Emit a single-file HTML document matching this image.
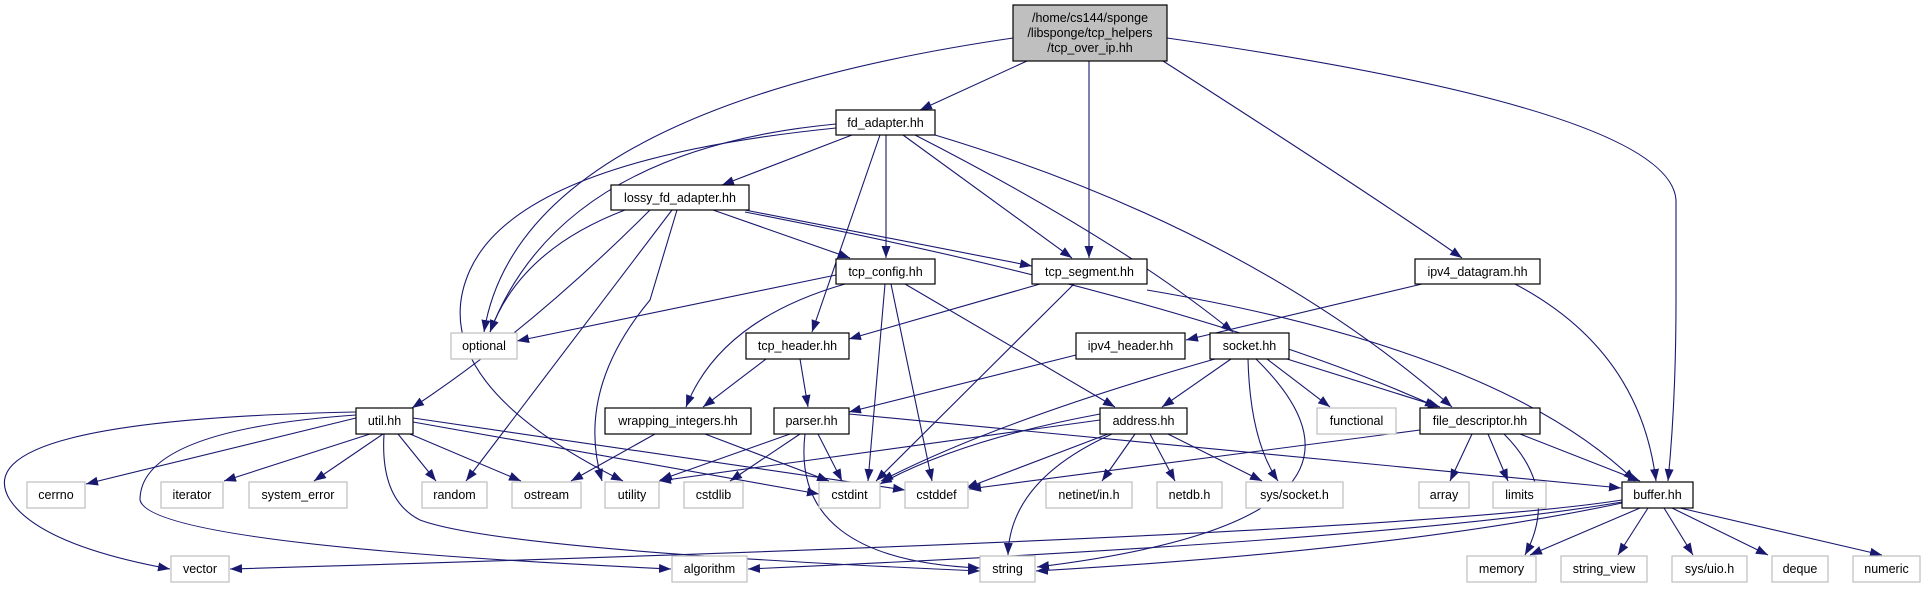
<!DOCTYPE html>
<html><head><meta charset="utf-8"><style>
html,body{margin:0;padding:0;background:#fff;}
svg{display:block;}
text{font-family:"Liberation Sans",Arial,sans-serif;font-size:12.5px;fill:#000;}
</style></head><body>
<svg width="1926" height="589" viewBox="0 0 1926 589" xmlns="http://www.w3.org/2000/svg">
<defs>
<marker id="a" markerWidth="13" markerHeight="10" refX="12" refY="4.5" orient="auto" markerUnits="userSpaceOnUse">
<path d="M0,0 L12,4.5 L0,9 z" fill="#191970"/>
</marker>
</defs>
<g fill="none" stroke="#191970" stroke-width="1.1" marker-end="url(#a)">
<path d="M1027,61 L920,110"/>
<path d="M1089,61 L1089,258"/>
<path d="M1163,61 Q1380,200 1462,258"/>
<path d="M1167,38 Q1670,110 1676,200 L1676,300 Q1676,400 1668,481"/>
<path d="M1013,38 Q520,110 484,332"/>
<path d="M852,135 L722,185"/>
<path d="M886,135 L886,258"/>
<path d="M880,135 L812,332"/>
<path d="M903,135 L1072,258"/>
<path d="M915,135 Q1120,240 1233,332"/>
<path d="M935,135 Q1250,230 1452,407"/>
<path d="M836,124 Q560,150 490,332"/>
<path d="M836,128 Q520,160 470,270 Q420,380 623,481"/>
<path d="M625,210 Q520,250 490,332"/>
<path d="M650,210 Q530,330 412,408"/>
<path d="M672,210 L466,481"/>
<path d="M677,210 L650,300 Q575,390 602,481"/>
<path d="M713,210 L850,258"/>
<path d="M745,210 L1032,266"/>
<path d="M745,212 Q1200,300 1437,407"/>
<path d="M836,275 L517,341"/>
<path d="M845,284 Q720,320 686,407"/>
<path d="M885,284 L868,481"/>
<path d="M891,284 L932,481"/>
<path d="M905,284 L1115,407"/>
<path d="M1040,284 L849,339"/>
<path d="M1074,284 L876,481"/>
<path d="M1147,290 Q1500,350 1635,481"/>
<path d="M1422,284 L1186,340"/>
<path d="M1515,284 Q1640,350 1656,481"/>
<path d="M766,359 L703,407"/>
<path d="M800,359 L808,407"/>
<path d="M1076,355 L849,412"/>
<path d="M1231,359 L1162,407"/>
<path d="M1267,359 L1330,407"/>
<path d="M1287,359 L1440,407"/>
<path d="M1248,359 Q1250,440 1278,481"/>
<path d="M1256,359 Q1420,520 1037,567"/>
<path d="M1215,359 Q1000,420 881,481"/>
<path d="M1100,414 Q960,440 880,484"/>
<path d="M1108,434 L966,488"/>
<path d="M1100,420 L659,481"/>
<path d="M1135,434 L1102,481"/>
<path d="M1150,434 L1175,481"/>
<path d="M1168,434 L1262,481"/>
<path d="M1112,434 Q1010,480 1008,555"/>
<path d="M655,434 L571,481"/>
<path d="M705,434 L829,481"/>
<path d="M790,434 L660,480"/>
<path d="M800,434 L730,481"/>
<path d="M818,434 L842,481"/>
<path d="M805,434 Q790,560 980,568"/>
<path d="M849,414 L1621,488"/>
<path d="M356,418 L86,484"/>
<path d="M370,434 L224,481"/>
<path d="M383,434 L314,481"/>
<path d="M398,434 L436,481"/>
<path d="M410,434 L521,481"/>
<path d="M413,422 L819,494"/>
<path d="M413,418 L905,490"/>
<path d="M356,412 Q-40,420 10,500 Q40,545 170,569"/>
<path d="M356,415 Q140,430 140,500 Q150,545 671,569"/>
<path d="M384,434 Q380,500 420,520 Q500,550 980,571"/>
<path d="M1420,430 L969,489"/>
<path d="M1472,434 L1450,481"/>
<path d="M1488,434 L1508,481"/>
<path d="M1504,434 Q1560,490 1525,555"/>
<path d="M1520,434 L1640,481"/>
<path d="M1622,500 Q1400,535 230,569"/>
<path d="M1622,502 Q1400,540 748,569"/>
<path d="M1622,503 Q1400,550 1036,571"/>
<path d="M1640,508 L1530,555"/>
<path d="M1648,508 L1618,555"/>
<path d="M1664,508 L1693,555"/>
<path d="M1672,508 L1768,555"/>
<path d="M1680,508 L1882,555"/>
</g>
<g stroke-width="1.2">
<rect x="1013" y="5" width="154" height="56" fill="#bfbfbf" stroke="#000"/>
<rect x="836" y="110" width="99" height="25" fill="#fff" stroke="#000"/>
<rect x="611" y="185" width="138" height="25" fill="#fff" stroke="#000"/>
<rect x="836" y="259" width="99" height="25" fill="#fff" stroke="#000"/>
<rect x="1032" y="259" width="115" height="25" fill="#fff" stroke="#000"/>
<rect x="1415" y="259" width="125" height="25" fill="#fff" stroke="#000"/>
<rect x="746" y="333" width="103" height="26" fill="#fff" stroke="#000"/>
<rect x="1076" y="333" width="109" height="26" fill="#fff" stroke="#000"/>
<rect x="1210" y="333" width="79" height="26" fill="#fff" stroke="#000"/>
<rect x="356" y="408" width="57" height="26" fill="#fff" stroke="#000"/>
<rect x="605" y="408" width="146" height="26" fill="#fff" stroke="#000"/>
<rect x="774" y="408" width="75" height="26" fill="#fff" stroke="#000"/>
<rect x="1100" y="408" width="87" height="26" fill="#fff" stroke="#000"/>
<rect x="1420" y="408" width="120" height="26" fill="#fff" stroke="#000"/>
<rect x="1622" y="482" width="71" height="26" fill="#fff" stroke="#000"/>
</g>
<g fill="#fff" stroke="#bfbfbf" stroke-width="1.2">
<rect x="451" y="333" width="66" height="26"/>
<rect x="1317" y="408" width="79" height="26"/>
<rect x="27" y="482" width="58" height="26"/>
<rect x="161" y="482" width="62" height="26"/>
<rect x="249" y="482" width="98" height="26"/>
<rect x="422" y="482" width="65" height="26"/>
<rect x="512" y="482" width="69" height="26"/>
<rect x="605" y="482" width="54" height="26"/>
<rect x="684" y="482" width="59" height="26"/>
<rect x="819" y="482" width="61" height="26"/>
<rect x="905" y="482" width="63" height="26"/>
<rect x="1046" y="482" width="86" height="26"/>
<rect x="1157" y="482" width="65" height="26"/>
<rect x="1246" y="482" width="97" height="26"/>
<rect x="1419" y="482" width="50" height="26"/>
<rect x="1493" y="482" width="53" height="26"/>
<rect x="171" y="556" width="58" height="26"/>
<rect x="672" y="556" width="75" height="26"/>
<rect x="980" y="556" width="55" height="26"/>
<rect x="1467" y="556" width="69" height="26"/>
<rect x="1561" y="556" width="86" height="26"/>
<rect x="1672" y="556" width="75" height="26"/>
<rect x="1772" y="556" width="56" height="26"/>
<rect x="1853" y="556" width="67" height="26"/>
</g>
<g text-anchor="middle">
<text x="1090" y="22">/home/cs144/sponge</text>
<text x="1090" y="37">/libsponge/tcp_helpers</text>
<text x="1090" y="52">/tcp_over_ip.hh</text>
<text x="885.5" y="127">fd_adapter.hh</text>
<text x="680" y="202">lossy_fd_adapter.hh</text>
<text x="885.5" y="276">tcp_config.hh</text>
<text x="1089.5" y="276">tcp_segment.hh</text>
<text x="1477.5" y="276">ipv4_datagram.hh</text>
<text x="797.5" y="350">tcp_header.hh</text>
<text x="1130.5" y="350">ipv4_header.hh</text>
<text x="1249.5" y="350">socket.hh</text>
<text x="484" y="350">optional</text>
<text x="384.5" y="425">util.hh</text>
<text x="678" y="425">wrapping_integers.hh</text>
<text x="811.5" y="425">parser.hh</text>
<text x="1143.5" y="425">address.hh</text>
<text x="1356.5" y="425">functional</text>
<text x="1480" y="425">file_descriptor.hh</text>
<text x="56" y="499">cerrno</text>
<text x="192" y="499">iterator</text>
<text x="298" y="499">system_error</text>
<text x="454.5" y="499">random</text>
<text x="546.5" y="499">ostream</text>
<text x="632" y="499">utility</text>
<text x="713.5" y="499">cstdlib</text>
<text x="849.5" y="499">cstdint</text>
<text x="936.5" y="499">cstddef</text>
<text x="1089" y="499">netinet/in.h</text>
<text x="1189.5" y="499">netdb.h</text>
<text x="1294.5" y="499">sys/socket.h</text>
<text x="1444" y="499">array</text>
<text x="1519.5" y="499">limits</text>
<text x="1657.5" y="499">buffer.hh</text>
<text x="200" y="573">vector</text>
<text x="709.5" y="573">algorithm</text>
<text x="1007.5" y="573">string</text>
<text x="1501.5" y="573">memory</text>
<text x="1604" y="573">string_view</text>
<text x="1709.5" y="573">sys/uio.h</text>
<text x="1800" y="573">deque</text>
<text x="1886.5" y="573">numeric</text>
</g>
</svg>
</body></html>
